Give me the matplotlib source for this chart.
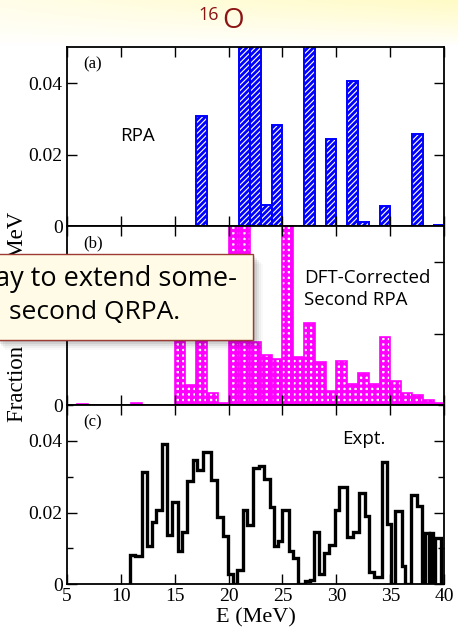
import numpy as np
import matplotlib
matplotlib.use("Agg")
import matplotlib.pyplot as plt
from matplotlib.patches import Rectangle
from matplotlib.ticker import MultipleLocator

W, H = 458, 630

# (a) RPA strength, 1 MeV bins (bin centres, MeV)
rpa_centers = [17.5, 21.5, 22.5, 23.5, 24.5, 27.5, 29.5, 31.5, 32.5, 34.5, 37.5, 39.5]
rpa_vals = [0.0309, 0.085, 0.070, 0.0060, 0.0283, 0.065, 0.0243, 0.0406, 0.0013, 0.0058, 0.0258, 0.0003]

# (b) DFT-corrected second RPA, 1 MeV bins
dft_centers = [6.5, 11.5, 15.5, 16.5, 17.5, 18.5, 19.5, 20.5, 21.5, 22.5, 23.5, 24.5, 25.5,
               26.5, 27.5, 28.5, 29.5, 30.5, 31.5, 32.5, 33.5, 34.5, 35.5, 36.5, 37.5, 38.5, 39.5]
dft_vals = [0.0003, 0.0006, 0.030, 0.0056, 0.025, 0.0033, 0.0006, 0.065, 0.060, 0.0177, 0.0140,
            0.0128, 0.062, 0.0135, 0.0229, 0.0119, 0.0040, 0.0124, 0.0059, 0.0089, 0.0059,
            0.0191, 0.0067, 0.0033, 0.0028, 0.0014, 0.0006]

# (c) experiment, step histogram
expt_edges = [10.87, 11.33, 11.95, 12.41, 12.88, 13.28, 13.80, 14.33, 14.73, 15.35, 15.66,
              16.12, 16.68, 17.10, 17.60, 18.34, 18.96, 19.50, 19.98, 20.39, 20.75, 21.37,
              21.74, 22.30, 22.82, 23.32, 23.84, 24.24, 24.61, 25.00, 25.60, 26.00, 26.47,
              27.10, 27.55, 27.95, 28.40, 28.85, 29.35, 29.87, 30.27, 30.95, 31.50, 32.12,
              32.65, 33.00, 33.50, 34.20, 34.66, 35.10, 35.43, 36.05, 36.35, 36.90, 37.45,
              37.90, 38.20, 38.60, 38.70, 38.92, 39.15, 39.70]
expt_vals = [0.0082, 0.0078, 0.0313, 0.0108, 0.0174, 0.0208, 0.0390, 0.0138, 0.0230, 0.0093,
             0.0146, 0.0288, 0.0346, 0.0318, 0.0370, 0.0290, 0.0188, 0.0134, 0.0028, 0.0,
             0.0040, 0.0207, 0.0166, 0.0323, 0.0330, 0.0295, 0.0215, 0.0108, 0.0120, 0.0207,
             0.0092, 0.0073, 0.0, 0.0008, 0.0012, 0.0145, 0.0028, 0.0087, 0.0110, 0.0206,
             0.0272, 0.0131, 0.0145, 0.0255, 0.0190, 0.0033, 0.0021, 0.0340, 0.0169, 0.0,
             0.0204, 0.0050, 0.0, 0.0249, 0.0218, 0.0, 0.0143, 0.0, 0.0143, 0.0, 0.0129]

x_ticks = [5, 10, 15, 20, 25, 30, 35, 40]
y_ticks = [0, 0.02, 0.04]
y_ticklabels = ["0", "0.02", "0.04"]

SERIF = "Liberation Serif"
SANS = "Open Sans"
BLUE = "#0000ff"
MAGENTA = "#ff00ff"
DARKRED = "#8b1414"

plt.rcParams["font.family"] = SERIF

fig = plt.figure(figsize=(W / 100, H / 100), dpi=100)
fig.patch.set_facecolor("white")


def fx(x):
    return x / W


def fy(y):
    return 1 - y / H


# pale yellow slide band at the top
bg = fig.add_axes([0, 0, 1, 1], zorder=-5)
bg.set_axis_off()
yy = np.linspace(0, 1, 200)[:, None]
xx = np.linspace(0, 1, 200)[None, :]
amt = np.clip(1 - yy * H / 44.0, 0, 1) ** 0.8 * (0.4 + 0.6 * xx)
img = np.ones((200, 200, 3))
img[..., 1] = 1.0 - 0.015 * amt
img[..., 2] = 1.0 - 0.22 * amt
bg.imshow(img, extent=[0, 1, 0, 1], aspect="auto", origin="upper")
bg.set_xlim(0, 1)
bg.set_ylim(0, 1)

left, width = fx(66.7), (444.3 - 66.7) / W
panels = [(47.3, 226.3), (226.3, 405.0), (405.0, 584.3)]
axes = []
for top, bot in panels:
    ax = fig.add_axes([left, fy(bot), width, (bot - top) / H])
    axes.append(ax)

for i, ax in enumerate(axes):
    ax.set_xlim(5, 40)
    ax.set_ylim(0, 0.05)
    ax.set_xticks(x_ticks)
    ax.set_yticks(y_ticks)
    ax.set_yticklabels(y_ticklabels)
    ax.tick_params(direction="in", top=True, right=True, length=7.5, width=1.0,
                   labelsize=14, pad=3)
    ax.tick_params(which="minor", direction="in", right=True, length=4, width=1.0)
    for s in ax.spines.values():
        s.set_linewidth(1.3)
    if i < 2:
        ax.tick_params(labelbottom=False)

axes[2].yaxis.set_minor_locator(MultipleLocator(0.01))

# (a) RPA
plt.rcParams["hatch.linewidth"] = 2.0
axes[0].bar(rpa_centers, rpa_vals, width=1.0, facecolor="white", edgecolor=BLUE,
            hatch="//////", linewidth=1.4)
# (b) second RPA
plt.rcParams["hatch.linewidth"] = 2.3
axes[1].bar(dft_centers, dft_vals, width=1.0, facecolor="white", edgecolor=MAGENTA,
            hatch="+++", linewidth=1.2)
# (c) experiment
axes[2].stairs(expt_vals, expt_edges, baseline=0, color="black", linewidth=2.4)

for ax, lab in zip(axes, ["(a)", "(b)", "(c)"]):
    ax.text(0.043, 0.905, lab, transform=ax.transAxes, fontsize=12, family=SERIF,
            ha="left", va="center")

axes[0].text((137 - 66.7) / 377.6, (226.3 - 136) / 179.0, "RPA", transform=axes[0].transAxes,
             fontsize=13.5, family=SANS, ha="center", va="center")
axes[1].text((304 - 66.7) / 377.6, (405 - 289) / 178.7, "DFT-Corrected\nSecond RPA",
             transform=axes[1].transAxes, fontsize=13.5, family=SANS, ha="left",
             va="center", linespacing=1.25)
axes[2].text((364 - 66.7) / 377.6, (584.3 - 439) / 179.3, "Expt.", transform=axes[2].transAxes,
             fontsize=13.5, family=SANS, ha="center", va="center")

axes[2].set_xlabel("E (MeV)", fontsize=16, family=SERIF, labelpad=2)
fig.text(fx(17.5), fy(317), "Fraction EWSR / MeV", rotation=90, fontsize=16.5,
         family=SERIF, ha="center", va="center")

# slide title
fig.text(fx(209), fy(15.5), "16", fontsize=13, family=SANS, color=DARKRED,
         ha="center", va="center")
fig.text(fx(233), fy(21), "O", fontsize=20, family=SANS, color=DARKRED,
         ha="center", va="center")

# callout box overlapping the figure
for k, a in enumerate([0.10, 0.08, 0.06, 0.04, 0.025]):
    off = 2 + 2 * k
    fig.add_artist(Rectangle((fx(-5 + off), fy(340 + off)), 257.7 / W, 85.7 / H,
                             transform=fig.transFigure, facecolor="black", alpha=a,
                             edgecolor="none", zorder=5))
fig.add_artist(Rectangle((fx(-5), fy(340)), 257.7 / W, 85.7 / H, transform=fig.transFigure,
                         facecolor="#fffbe6", edgecolor="#9c3b33", linewidth=1.0, zorder=6))
fig.text(fx(-5), fy(286), "ay to extend some-", fontsize=19.5, family=SANS,
         ha="left", va="baseline", zorder=7)
fig.text(fx(9), fy(319), "second QRPA.", fontsize=19, family=SANS,
         ha="left", va="baseline", zorder=7)

fig.savefig("out.png", dpi=100)
